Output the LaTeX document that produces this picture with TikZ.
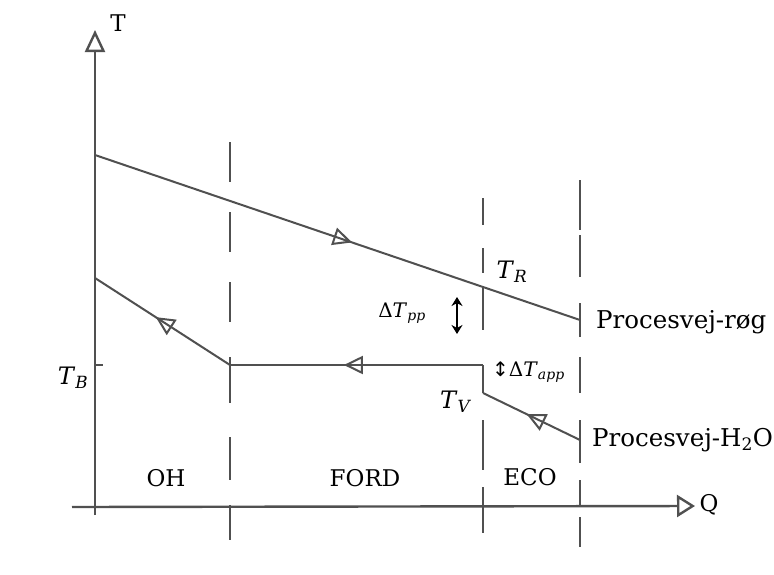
\documentclass[tikz,border=0pt]{standalone}
\usepackage{fontspec}
\setmainfont{DejaVu Serif}
\newfontfamily\symfont{DejaVu Sans}
\newcommand\myvar[2]{\textit{#1}\textsubscript{\textit{#2}}}
\usetikzlibrary{arrows.meta,decorations.markings}
\definecolor{ink}{RGB}{80,80,80}
\tikzset{
  axisline/.style={ink, line width=2.4pt},
  procline/.style={ink, line width=2pt},
  divline/.style={ink, line width=2.2pt},
  lbl/.style={font=\fontsize{23}{27}\selectfont, inner sep=0pt},
  plbl/.style={font=\fontsize{24.5}{29}\selectfont, inner sep=0pt, anchor=west},
  mlbl/.style={font=\fontsize{24}{29}\selectfont, inner sep=0pt},
  slbl/.style={font=\fontsize{20}{24}\selectfont, inner sep=0pt},
  midarrow/.style={postaction={decorate}, decoration={markings, mark=at position #1 with {\arrow[ink, line width=2pt]{Triangle[open, length=19pt, width=18pt]}}}},
}
\begin{document}
\begin{tikzpicture}[x=1pt,y=-1pt]
\useasboundingbox[fill=white] (0,0) rectangle (774,574);
% coordinates
\coordinate (o) at (95,515);
\coordinate (ytop) at (95,30);
\coordinate (xl) at (72,507);
\coordinate (xr) at (695,506);
\coordinate (s0) at (95,155);
\coordinate (s1) at (580,320);
\coordinate (w0) at (95,278);
\coordinate (w1) at (230,365);
\coordinate (w2) at (483,365);
\coordinate (w3) at (483,393);
\coordinate (w4) at (580,440);
\coordinate (tbt) at (103,365);
\coordinate (tbs) at (95,365);
\coordinate (ppa) at (457,297);
\coordinate (ppb) at (457,334);
% divider lines (hand-drawn dashes)
\foreach \a/\b in {142/182,212/252,282/322,357/403,437/480,505/540}
  \draw[divline] (230,\a) -- (230,\b);
\foreach \a/\b in {198/225,248/273,287/330,420/470,487/533}
  \draw[divline] (483,\a) -- (483,\b);
\foreach \a/\b in {180/230,235/277,303/337,357/393,420/463,480/507,517/547}
  \draw[divline] (580,\a) -- (580,\b);
% axes
\draw[axisline, -{Triangle[open, length=22pt, width=20pt]}] (o) -- (ytop);
\draw[axisline, -{Triangle[open, length=18pt, width=22pt]}] (xl) -- (xr);
\draw[axisline] (tbs) -- (tbt);
% process lines
\draw[procline, midarrow=0.53] (s0) -- (s1);
\draw[procline, midarrow=0.55] (w4) -- (w3);
\draw[procline] (w3) -- (w2);
\draw[procline, midarrow=0.55] (w2) -- (w1);
\draw[procline, midarrow=0.55] (w1) -- (w0);
\draw[black, line width=1.8pt, {Stealth[length=9pt,width=11pt]}-{Stealth[length=9pt,width=11pt]}] (ppa) -- (ppb);
% labels
\node[lbl] (tlab) at (118,23) {T};
\node[lbl] (qlab) at (709,505) {Q};
\node[mlbl] (tr) at (512,272) {\myvar{T}{R}};
\node[mlbl] (tb) at (73,378) {\myvar{T}{B}};
\node[mlbl] (tv) at (456,402) {\myvar{T}{V}};
\node[slbl] (dpp) at (402,313) {Δ\myvar{T}{pp}};
\node[slbl, anchor=west] (dapp) at (492,372) {{\symfont ↕}Δ\myvar{T}{app}};
\node[plbl] (rog) at (596,322) {Procesvej-røg};
\node[plbl] (h2o) at (592,440) {Procesvej-H\textsubscript{2}O};
\node[lbl] (oh) at (166,478) {OH};
\node[lbl] (ford) at (365,478) {FORD};
\node[lbl] (eco) at (530,477) {ECO};
\end{tikzpicture}
\end{document}
